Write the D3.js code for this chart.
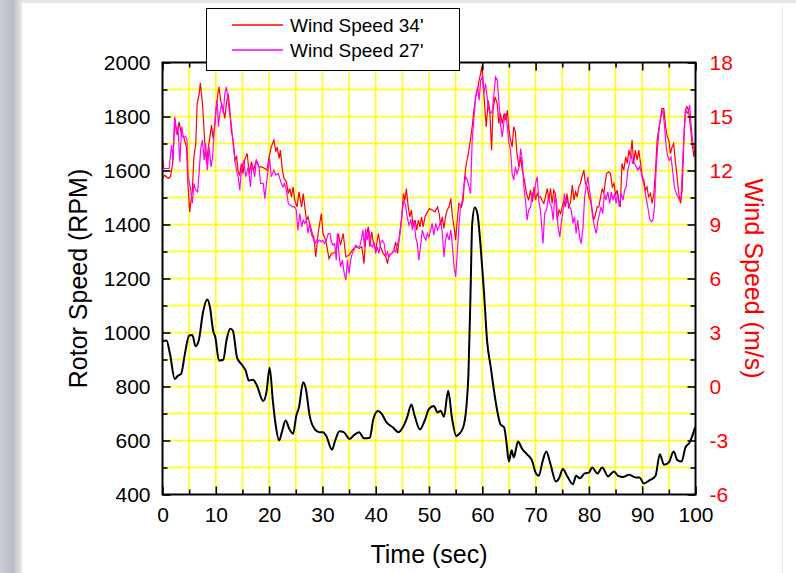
<!DOCTYPE html>
<html><head><meta charset="utf-8">
<script src="https://cdn.jsdelivr.net/npm/d3@7"></script>
<style>
body{margin:0;background:#fff;}
svg{display:block;font-family:"Liberation Sans",Arial,sans-serif;}
</style></head>
<body>
<svg id="c" width="796" height="573"></svg>
<script>
// ---- data ----
const rotorTime = [0.1,0.75,1.4,2.3,2.9,3.5,4.2,5.0,5.6,6.2,6.8,7.6,8.4,8.9,9.5,9.9,10.6,11.4,12.0,12.7,13.2,14.0,15.0,15.6,16.2,17.0,17.7,18.9,19.5,20.1,20.7,21.2,21.9,22.4,23.1,23.8,24.5,25.1,25.6,26.4,26.9,27.6,28.6,29.4,30.1,30.7,31.8,32.4,33.2,34.0,35.1,36.0,36.9,37.8,38.9,39.5,40.4,41.0,42.0,43.2,44.3,45.1,45.9,46.7,47.3,48.3,49.2,50.0,50.9,51.6,52.2,52.8,53.6,54.3,55.1,55.6,56.4,57.0,57.4,57.8,58.1,58.6,59.1,59.7,60.3,60.9,61.6,62.2,62.8,63.4,64.1,64.5,65.0,65.5,65.9,66.7,67.5,68.4,69.4,70.0,70.6,71.3,72.0,72.8,73.8,74.4,75.1,75.9,77.0,77.6,78.3,79.2,80.0,80.6,81.6,82.5,83.6,84.7,85.5,86.4,87.5,88.8,89.5,90.3,91.4,92.5,93.3,94.1,95.0,95.9,96.6,97.4,98.1,98.9,99.4,99.9];
const rotorRPM = [968,970,921,828,840,847,921,989,991,949,970,1075,1122,1094,1007,983,896,899,970,1014,1007,906,878,859,822,825,804,746,779,869,748,662,600,631,674,643,625,692,723,816,791,692,641,631,631,618,566,600,634,631,606,621,631,608,610,674,709,702,668,649,631,649,686,733,692,641,674,717,728,704,710,688,784,685,617,623,648,722,846,1154,1401,1463,1438,1315,1154,969,870,784,710,660,648,599,522,564,537,596,568,549,522,481,469,522,559,512,448,460,494,469,438,469,460,478,481,500,478,500,467,485,469,465,473,463,463,441,453,469,549,510,519,559,527,522,574,593,617,648];

const wind34Time = [0,0.4,1.1,1.5,1.9,2.3,2.75,3.1,3.6,4.0,4.5,4.8,5.1,5.6,5.9,6.25,6.5,6.9,7.1,7.5,7.9,8.25,8.6,8.9,9.2,9.5,9.8,10.1,10.4,10.6,10.9,11.4,11.7,12.0,12.3,12.6,12.9,13.25,13.6,13.9,14.2,14.5,14.8,15.1,15.4,15.9,16.25,16.7,17.1,17.6,18.1,18.6,19.2,19.6,20.0,20.4,20.9,21.25,21.5,21.9,22.1,22.5,22.8,23.25,23.6,23.9,24.2,24.5,24.8,25.25,25.6,26.1,26.4,26.7,27.0,27.3,27.6,28.1,28.4,28.75,29.2,29.5,29.8,30.1,30.4,30.75,31.25,31.7,32.3,32.6,33.0,33.4,33.9,34.4,35.0,35.6,36.25,36.9,37.4,37.8,38.1,38.6,38.9,39.25,39.6,40.0,40.5,40.9,41.4,41.9,42.2,42.5,43.0,43.4,43.75,44.1,44.5,44.9,45.2,45.5,45.75,46.1,46.4,46.7,47.0,47.4,47.7,48.0,48.3,48.6,48.9,49.25,49.7,50.1,50.6,51.1,51.6,51.9,52.2,52.5,52.8,53.1,53.4,53.75,54.1,54.4,54.7,55.0,55.3,55.6,56.1,56.4,56.7,57.0,57.4,57.8,58.1,58.4,58.75,59.1,59.4,59.7,59.9,60.1,60.5,60.75,61.1,61.4,61.75,62.0,62.4,62.8,63.1,63.4,63.75,64.1,64.4,64.7,65.0,65.3,65.6,65.9,66.2,66.5,66.9,67.2,67.5,67.9,68.3,68.7,69.05,69.4,69.7,70.0,70.3,70.6,70.9,71.2,71.55,71.85,72.2,72.5,72.8,73.1,73.4,73.7,74.05,74.4,74.7,75.0,75.3,75.6,75.9,76.2,76.55,76.9,77.2,77.5,77.8,78.1,78.4,78.7,79.05,79.35,79.7,80.0,80.3,80.6,80.9,81.2,81.55,81.85,82.2,82.5,82.8,83.3,83.7,84.05,84.4,84.7,85.0,85.3,85.6,85.9,86.2,86.55,86.9,87.2,87.5,87.8,88.1,88.4,88.7,89.05,89.35,89.7,90.0,90.3,90.6,90.9,91.2,91.55,91.85,92.2,92.5,92.8,93.1,93.4,93.7,94.05,94.4,94.7,95.0,95.3,95.6,95.9,96.2,96.55,96.85,97.2,97.5,97.8,98.1,98.4,98.7,99.05,99.35,99.7,99.9];
const wind34Speed = [11.56,11.74,11.56,11.65,12.39,14.89,13.96,14.7,13.96,13.83,13.3,11.09,9.7,10.9,12.76,13.5,15.72,16.28,16.87,15.72,13.69,12.39,13.3,13.87,14.52,13.78,14.43,15.54,16.28,16.65,15.9,15.35,14.89,15.72,16.28,15.54,14.24,13.69,12.57,12.76,11.93,11.74,12.39,11.83,12.57,12.94,11.83,12.48,12.02,12.57,12.2,12.2,12.11,12.02,12.76,13.3,13.69,13.04,13.3,12.67,13.13,12.02,11.56,11.37,10.72,11.0,10.54,11.09,10.35,9.98,10.81,9.98,10.72,9.98,9.24,9.43,9.06,8.5,8.31,7.2,8.5,9.06,9.61,8.5,8.31,7.94,7.1,7.39,7.43,7.57,8.5,7.85,8.5,7.2,7.3,7.57,7.76,7.67,7.76,6.83,8.13,8.87,7.76,8.59,7.94,7.57,8.5,7.76,7.39,7.2,6.83,7.3,7.39,7.57,8.04,7.39,8.5,9.43,10.72,10.35,11.0,9.98,9.43,9.8,8.87,9.24,8.69,9.24,8.87,9.43,8.87,9.43,9.7,9.89,9.8,9.7,9.98,9.61,8.96,9.43,8.78,9.43,9.8,9.98,10.44,9.43,8.87,8.13,9.24,10.17,9.98,10.35,11.65,12.39,12.94,13.78,14.43,15.26,16.09,16.46,17.02,17.39,17.8,17.2,15.35,14.43,15.9,15.35,13.13,15.35,16.09,15.72,14.61,15.17,14.61,15.17,14.8,15.35,14.24,13.69,13.3,14.43,14.15,12.94,12.2,12.76,12.02,11.46,10.72,10.35,10.91,10.26,11.09,10.35,10.72,10.54,10.54,10.35,10.17,10.54,11.0,10.35,11.0,10.17,10.91,10.72,9.24,9.8,9.61,9.98,10.35,9.98,10.72,9.89,10.26,11.19,10.35,10.81,10.54,11.09,11.28,11.65,12.02,11.28,11.09,10.54,10.35,9.8,9.24,9.52,9.98,9.98,10.54,11.0,10.72,11.83,11.93,11.83,11.09,11.28,10.63,10.91,10.35,9.98,12.39,12.02,12.76,12.39,13.13,12.76,13.69,12.39,13.13,12.57,13.13,12.39,11.65,11.46,10.91,11.09,10.54,10.72,10.17,10.72,12.02,13.69,14.24,14.8,15.44,15.44,14.43,13.87,13.69,12.94,13.3,13.5,12.57,11.65,10.72,10.17,10.91,13.5,15.35,15.54,15.35,14.43,13.5,12.76,13.3];

const wind27Time = [0,0.25,0.75,1.25,1.7,2.0,2.3,2.6,2.9,3.25,3.6,3.9,4.4,4.6,4.8,5.25,5.6,5.9,6.25,6.6,6.9,7.2,7.5,7.8,8.1,8.4,8.75,9.1,9.4,9.7,10.0,10.25,10.5,10.75,11.1,11.4,11.7,12.0,12.3,12.6,12.9,13.25,13.6,13.9,14.2,14.5,14.8,15.25,15.6,16.1,16.5,16.8,17.3,17.6,18.1,18.4,18.9,19.2,19.5,19.8,20.1,20.4,20.9,21.25,21.7,22.0,22.3,22.6,22.9,23.25,23.6,24.0,24.4,24.8,25.1,25.4,25.75,26.1,26.4,26.7,27.0,27.3,27.6,27.9,28.25,28.6,28.9,29.2,29.5,29.8,30.1,30.4,30.75,31.1,31.4,31.7,32.0,32.3,32.6,32.8,33.1,33.4,33.75,34.1,34.4,34.7,35.0,35.3,35.6,35.9,36.25,36.6,37.0,37.4,37.6,37.9,38.1,38.4,38.75,39.1,39.4,39.7,40.0,40.3,40.6,40.9,41.25,41.6,41.9,42.2,42.5,42.8,43.1,43.4,43.75,44.1,44.4,44.7,45.0,45.3,45.6,45.9,46.25,46.6,46.9,47.2,47.5,47.8,48.1,48.4,48.75,49.1,49.4,49.7,50.0,50.3,50.6,50.9,51.25,51.6,51.9,52.2,52.5,52.8,53.1,53.4,53.75,54.1,54.4,54.7,55.0,55.3,55.6,55.9,56.25,56.6,56.9,57.2,57.5,57.8,58.1,58.4,58.75,59.1,59.4,59.7,60.0,60.3,60.6,60.9,61.25,61.6,61.9,62.2,62.5,62.8,63.1,63.4,63.75,64.1,64.4,64.7,65.0,65.3,65.6,65.9,66.2,66.5,66.9,67.2,67.5,67.8,68.1,68.4,68.7,69.05,69.4,69.7,70.0,70.3,70.6,70.9,71.4,71.7,72.05,72.4,72.7,73.0,73.3,73.6,73.9,74.2,74.55,74.8,75.1,75.4,75.7,76.05,76.4,76.7,77.0,77.3,77.6,77.9,78.25,78.55,78.9,79.2,79.5,79.8,80.1,80.4,80.7,81.05,81.4,81.7,82.0,82.3,82.6,82.9,83.2,83.55,83.9,84.2,84.5,84.8,85.1,85.4,85.7,86.05,86.4,86.7,87.0,87.3,87.6,87.9,88.2,88.55,88.9,89.2,89.5,89.8,90.1,90.4,90.7,91.05,91.4,91.7,92.0,92.3,92.6,92.9,93.2,93.5,93.9,94.2,94.5,94.8,95.1,95.4,95.7,96.05,96.4,96.7,97.0,97.3,97.6,97.9,98.2,98.55,98.9,99.2,99.5,99.8];
const wind27Speed = [12.76,12.11,12.11,12.11,13.41,12.57,14.98,14.06,14.43,12.48,14.43,13.87,13.87,13.69,11.65,11.0,10.17,11.28,10.91,10.81,12.02,13.3,13.69,12.57,13.5,12.02,13.3,12.2,12.76,14.24,15.35,15.91,14.43,15.17,15.72,15.17,16.28,16.65,15.91,15.17,14.61,13.5,12.57,12.02,11.65,10.91,12.02,12.57,11.65,12.2,11.09,12.39,11.65,12.57,12.2,11.28,11.28,10.44,11.28,12.02,12.67,11.65,12.02,11.74,11.83,11.56,11.28,11.09,11.28,10.91,10.17,10.07,9.98,9.98,9.8,8.69,9.61,8.87,9.24,9.06,9.24,8.5,9.06,8.5,8.22,7.94,8.13,8.04,8.13,8.04,8.13,7.94,8.13,8.5,8.5,8.04,7.85,7.94,7.02,8.5,7.39,6.65,7.02,6.28,5.91,7.02,6.28,7.02,7.39,7.57,7.85,7.76,7.76,8.31,8.69,7.76,8.78,8.13,8.69,7.85,7.76,8.04,7.39,7.76,7.39,7.94,8.13,7.94,7.2,7.48,7.2,7.39,7.39,7.57,7.48,7.94,8.13,8.87,9.8,10.35,10.07,9.43,8.96,9.24,8.69,9.24,8.31,7.94,7.02,7.76,8.69,8.31,8.13,8.5,8.31,8.69,9.06,8.41,9.06,8.69,8.87,9.24,8.5,7.2,8.13,8.5,8.13,8.69,7.76,6.65,6.09,7.39,8.87,9.98,10.35,11.28,11.65,11.46,11.09,10.72,13.69,14.8,16.09,16.65,15.91,17.02,17.2,16.28,16.83,16.09,15.35,15.17,15.35,16.28,17.2,17.02,15.91,14.61,13.87,14.8,15.17,14.43,13.5,13.13,11.83,11.46,12.2,11.83,12.2,13.22,12.57,11.09,10.35,9.24,9.8,9.98,10.72,10.54,11.28,11.65,10.35,9.8,7.94,9.61,9.8,10.54,10.17,9.98,9.24,10.54,10.35,8.87,8.31,9.06,9.61,10.72,10.17,10.35,9.98,9.8,9.06,9.43,8.5,9.24,8.31,7.94,8.87,10.54,11.09,11.65,10.91,10.35,9.43,8.87,8.5,9.24,9.61,9.98,9.61,10.72,10.35,10.81,10.17,10.81,10.35,10.72,10.17,10.72,9.98,10.72,10.35,10.91,11.09,12.02,12.39,12.94,12.39,12.39,12.2,12.02,12.2,11.93,11.46,11.09,10.54,9.98,9.33,9.15,9.24,9.98,12.02,13.3,14.43,14.98,15.35,14.43,13.3,12.76,12.57,12.76,12.02,11.09,10.72,10.54,10.35,10.54,12.57,14.43,15.35,15.17,15.63,14.43,13.5,13.13];

const xTicks = [0,10,20,30,40,50,60,70,80,90,100];
const rpmTicks = [400,600,800,1000,1200,1400,1600,1800,2000];
const windTicks = [-6,-3,0,3,6,9,12,15,18];
const legendLabels = ["Wind Speed 34'", "Wind Speed 27'"];
const seriesColors = ["#ff0000", "#ff00ff"];

// ---- chart ----
const svg = d3.select("#c");
const L = 162.5, R = 695.5, T = 62.5, B = 494.5;

// page background details
const g0 = svg.append("defs").append("linearGradient").attr("id","lg").attr("x1","0").attr("x2","1");
g0.append("stop").attr("offset","0").attr("stop-color","#c9ccd2");
g0.append("stop").attr("offset","0.6").attr("stop-color","#b9bcc3");
g0.append("stop").attr("offset","1").attr("stop-color","#e8e9ec");
svg.append("rect").attr("x",0).attr("y",0).attr("width",22).attr("height",573).attr("fill","url(#lg)");
svg.append("rect").attr("x",22).attr("y",0).attr("width",774).attr("height",3).attr("fill","#e6e6e6");
svg.append("line").attr("x1",782.5).attr("x2",782.5).attr("y1",0).attr("y2",573).attr("stroke","#ececec");

const x = d3.scaleLinear().domain([0,100]).range([L,R]);
const yL = d3.scaleLinear().domain([400,2000]).range([B,T]);
const yR = d3.scaleLinear().domain([-6,18]).range([B,T]);

// grid
const gridX = d3.range(5,100,5), gridY = d3.range(500,2000,100);
svg.append("g").selectAll("line").data(gridX).join("line")
  .attr("x1",d=>x(d)).attr("x2",d=>x(d)).attr("y1",T).attr("y2",B)
  .attr("stroke","#ffff00").attr("stroke-width",1.5);
svg.append("g").selectAll("line").data(gridY).join("line")
  .attr("y1",d=>yL(d)).attr("y2",d=>yL(d)).attr("x1",L).attr("x2",R)
  .attr("stroke","#ffff00").attr("stroke-width",1.5);

// lines
const lineR = d3.line().x(d=>x(d[0])).y(d=>yL(d[1])).curve(d3.curveMonotoneX);
const lineW = d3.line().x(d=>x(d[0])).y(d=>yR(d[1]));
svg.append("path").datum(d3.zip(wind34Time,wind34Speed)).attr("d",lineW)
  .attr("fill","none").attr("stroke",seriesColors[0]).attr("stroke-width",1.2);
svg.append("path").datum(d3.zip(wind27Time,wind27Speed)).attr("d",lineW)
  .attr("fill","none").attr("stroke",seriesColors[1]).attr("stroke-width",1.2);
svg.append("path").datum(d3.zip(rotorTime,rotorRPM)).attr("d",lineR)
  .attr("fill","none").attr("stroke","#000").attr("stroke-width",2);

// axes
const plainFmt = d => String(d);
function styleAxis(g, color){
  g.select(".domain").remove();
  g.selectAll(".tick line").attr("stroke","#000").attr("stroke-width",1.6);
  g.selectAll("text").attr("fill",color).style("font-size","21px")
   .style("font-family",'"Liberation Sans",Arial,sans-serif');
}
// bottom major
svg.append("g").attr("transform",`translate(0,${B})`)
  .call(d3.axisBottom(x).tickValues(xTicks).tickSize(-8).tickPadding(13).tickFormat(plainFmt))
  .call(g=>styleAxis(g,"#000"));
svg.append("g").attr("transform",`translate(0,${B})`)
  .call(d3.axisBottom(x).tickValues(gridX.filter(d=>d%10)).tickSize(-5).tickFormat(""))
  .call(g=>styleAxis(g,"#000"));
// top
svg.append("g").attr("transform",`translate(0,${T})`)
  .call(d3.axisTop(x).tickValues(xTicks).tickSize(-8).tickFormat(""))
  .call(g=>styleAxis(g,"#000"));
svg.append("g").attr("transform",`translate(0,${T})`)
  .call(d3.axisTop(x).tickValues(gridX.filter(d=>d%10)).tickSize(-5).tickFormat(""))
  .call(g=>styleAxis(g,"#000"));
// left
svg.append("g").attr("transform",`translate(${L},0)`)
  .call(d3.axisLeft(yL).tickValues(rpmTicks).tickSize(-8).tickPadding(12).tickFormat(plainFmt))
  .call(g=>styleAxis(g,"#000"));
svg.append("g").attr("transform",`translate(${L},0)`)
  .call(d3.axisLeft(yL).tickValues(gridY.filter(d=>d%200)).tickSize(-5).tickFormat(""))
  .call(g=>styleAxis(g,"#000"));
// right
svg.append("g").attr("transform",`translate(${R},0)`)
  .call(d3.axisRight(yR).tickValues(windTicks).tickSize(-8).tickPadding(14).tickFormat(plainFmt))
  .call(g=>styleAxis(g,"#ff0000"));
svg.append("g").attr("transform",`translate(${R},0)`)
  .call(d3.axisRight(yR).tickValues(d3.range(-4.5,18,3)).tickSize(-5).tickFormat(""))
  .call(g=>styleAxis(g,"#ff0000"));

// frame
svg.append("rect").attr("x",L).attr("y",T).attr("width",R-L).attr("height",B-T)
  .attr("fill","none").attr("stroke","#000").attr("stroke-width",2);

// titles
svg.append("text").attr("x",(L+R)/2).attr("y",563).attr("text-anchor","middle")
  .style("font-size","25px").attr("fill","#000").text("Time (sec)");
svg.append("text").attr("transform",`translate(87,${(T+B)/2}) rotate(-90)`).attr("text-anchor","middle")
  .style("font-size","25px").attr("fill","#000").text("Rotor Speed (RPM)");
svg.append("text").attr("transform",`translate(745,${(T+B)/2}) rotate(90)`).attr("text-anchor","middle")
  .style("font-size","25px").attr("fill","#ff0000").text("Wind Speed (m/s)");

// legend
const lg = svg.append("g");
lg.append("rect").attr("x",206.5).attr("y",8.5).attr("width",253).attr("height",62)
  .attr("fill","#fff").attr("stroke","#000").attr("stroke-width",1);
legendLabels.forEach((lab,i)=>{
  const yy = 25 + i*25;
  lg.append("line").attr("x1",232).attr("x2",283).attr("y1",yy).attr("y2",yy)
    .attr("stroke",seriesColors[i]).attr("stroke-width",1.3);
  lg.append("text").attr("x",290).attr("y",yy+7).style("font-size","19px").attr("fill","#000").text(lab);
});
</script>
</body></html>
